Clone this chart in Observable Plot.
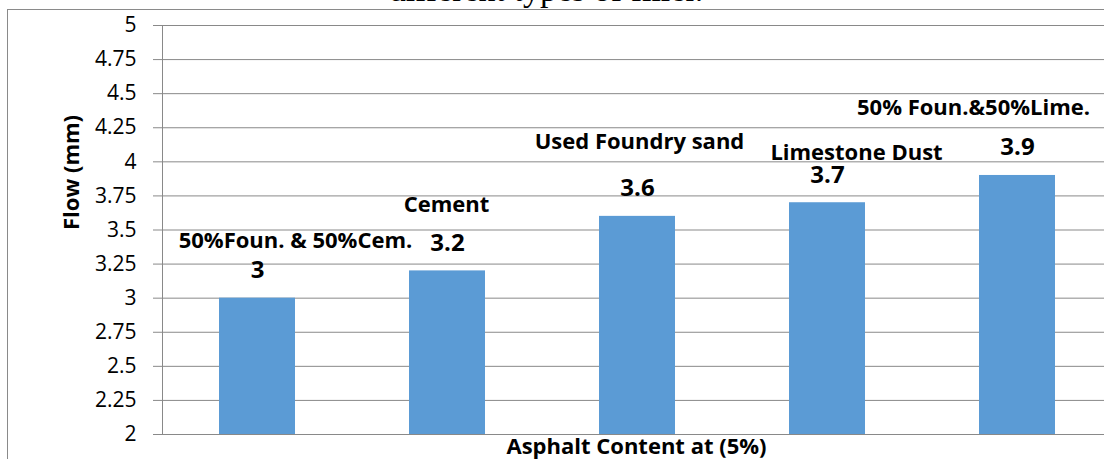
<!DOCTYPE html>
<html>
<head>
<meta charset="utf-8">
<script src="https://cdn.jsdelivr.net/npm/d3@7"></script>
<script src="https://cdn.jsdelivr.net/npm/@observablehq/plot@0.6"></script>
<style>
  html, body { margin: 0; padding: 0; background: #fff; overflow: hidden; }
  #wrap { position: relative; width: 1104px; height: 459px; overflow: hidden; background: #fff; }
  #title { position: absolute; left: 0; width: 1092px; top: -27px; text-align: center;
           font-family: "Liberation Serif", "Times New Roman", serif; font-size: 34px; line-height: 34px;
           white-space: nowrap; color: #000; }
  #border { position: absolute; left: 7px; top: 9px; right: -10px; bottom: -10px;
            border-left: 1px solid #8a8a8a; border-top: 1px solid #8a8a8a; }
  #chart { position: absolute; left: 0; top: 0; }
</style>
</head>
<body>
<div id="wrap">
  <div id="title"></div>
  <div id="border"></div>
  <div id="chart"></div>
</div>
<script>
// ---- data ----
const titleText = "different types of filler.";
const categories = ["50%Foun. & 50%Cem.", "Cement", "Used Foundry sand", "Limestone Dust", "50% Foun.&50%Lime."];
const flow = [3, 3.2, 3.6, 3.7, 3.9];
const yTicks = [2, 2.25, 2.5, 2.75, 3, 3.25, 3.5, 3.75, 4, 4.25, 4.5, 4.75, 5];
const yTickLabels = ["2", "2.25", "2.5", "2.75", "3", "3.25", "3.5", "3.75", "4", "4.25", "4.5", "4.75", "5"];
const yTitle = "Flow (mm)";
const xTitle = "Asphalt Content at (5%)";

// ---- label layout (pixel nudges of the category labels, relative to bar top) ----
const labelOffsets = [[38, -50], [-1, -59], [2, -67], [29, -43], [-44, -60]];

const rows = categories.map((c, i) => ({category: c, flow: flow[i]}));

document.getElementById("title").textContent = titleText;

const grey = "#898989";
const categoryLabelMarks = rows.map((r, i) =>
  Plot.text([r], {
    x: "category", y: "flow", text: "category",
    dx: labelOffsets[i][0], dy: labelOffsets[i][1],
    lineAnchor: "bottom", fontSize: 22, fontWeight: "bold", fill: "#000"
  })
);

const chart = Plot.plot({
  width: 1104,
  height: 459,
  marginLeft: 162,
  marginRight: 0,
  marginTop: 25,
  marginBottom: 25,
  style: {fontFamily: "'Open Sans', sans-serif", fontSize: "21px", color: "#000", background: "transparent"},
  x: {domain: categories, range: [162, 1112], paddingInner: 0.6, paddingOuter: 0.3, axis: null},
  y: {domain: [2, 5], axis: null},
  marks: [
    Plot.gridY(yTicks, {stroke: grey, strokeOpacity: 1}),
    Plot.barY(rows, {x: "category", y: "flow", fill: "#5B9BD5", clip: true}),
    Plot.frame({anchor: "left", stroke: grey}),
    Plot.axisY({
      ticks: yTicks, tickSize: 9, tickPadding: 17,
      tickFormat: d => yTickLabels[yTicks.indexOf(d)],
      stroke: grey, fill: "#000", fontSize: 21, label: null
    }),
    Plot.text(rows, {
      x: "category", y: "flow", text: d => String(d.flow),
      dy: -20, lineAnchor: "bottom", fontSize: 24, fontWeight: "bold", fill: "#000"
    }),
    ...categoryLabelMarks,
    Plot.text([yTitle], {
      frameAnchor: "left", text: d => d, rotate: -90, dx: -91,
      fontSize: 22, fontWeight: "bold", fill: "#000"
    }),
    Plot.text([xTitle], {
      frameAnchor: "bottom", text: d => d, dx: 3, dy: 19, lineAnchor: "bottom",
      fontSize: 22, fontWeight: "bold", fill: "#000"
    })
  ]
});
document.getElementById("chart").appendChild(chart);
</script>
</body>
</html>
